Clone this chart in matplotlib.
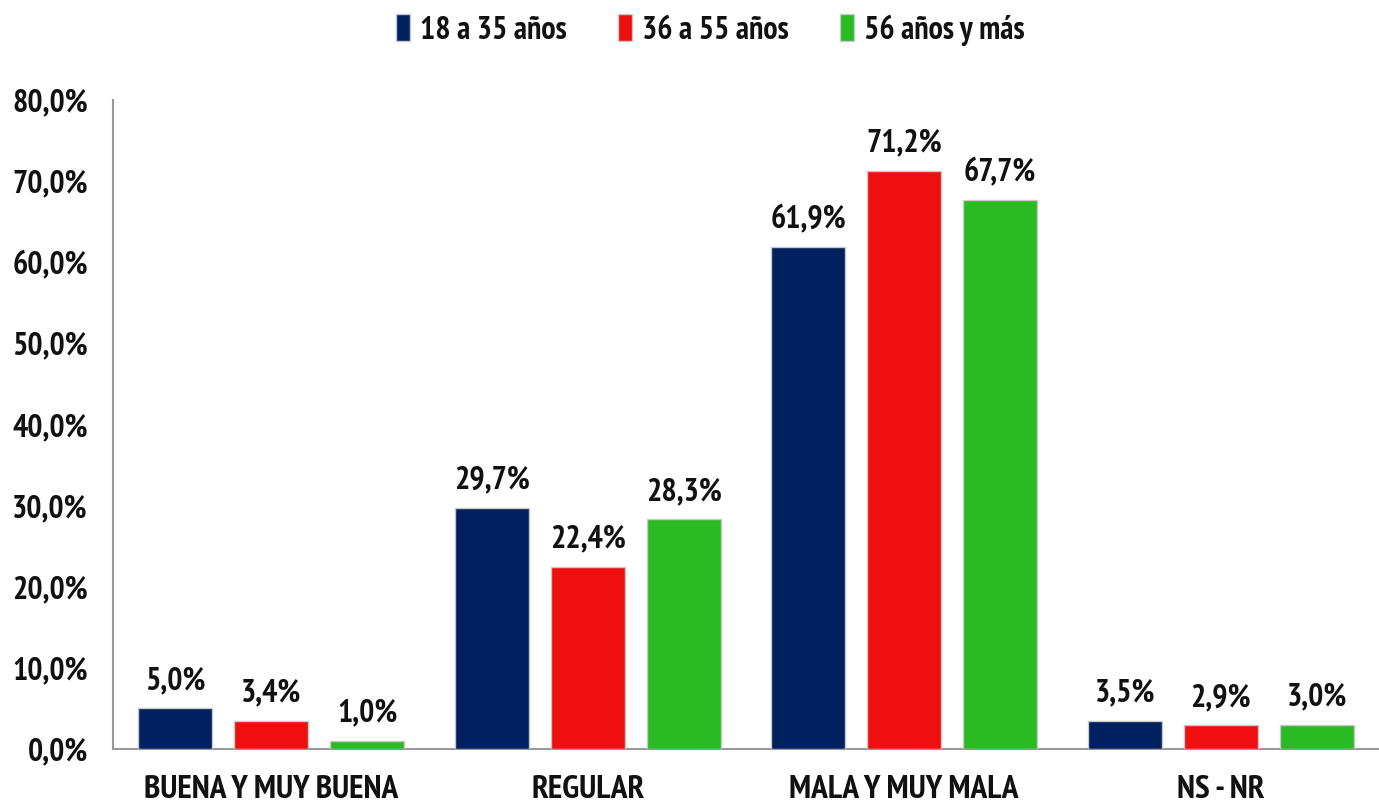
import matplotlib
matplotlib.use("Agg")
import matplotlib.pyplot as plt
from matplotlib import font_manager
import numpy as np

categories = ["BUENA Y MUY BUENA", "REGULAR", "MALA Y MUY MALA", "NS - NR"]
series_names = ["18 a 35 años", "36 a 55 años", "56 años y más"]
v_18_35 = [5.0, 29.7, 61.9, 3.5]
v_36_55 = [3.4, 22.4, 71.2, 2.9]
v_56 = [1.0, 28.3, 67.7, 3.0]
yticks = [0, 10, 20, 30, 40, 50, 60, 70, 80]
colors = ["#00205F", "#F00F0F", "#2ABB22"]

_installed = {f.name for f in font_manager.fontManager.ttflist}
_cands = ["PT Sans Narrow", "Roboto Condensed", "Liberation Sans Narrow",
          "Archivo Narrow", "Fira Sans Condensed", "DejaVu Sans"]
FAM = next(c for c in _cands if c in _installed or c == "DejaVu Sans")
FONT = dict(family=FAM, weight="bold")
FS = 23

fig = plt.figure(figsize=(13.79, 8.09), dpi=100)
ax = fig.add_axes([0.0819, 0.0742, 0.9181, 0.8022])

x = np.arange(len(categories))
w = 0.234
step = 0.303
for i, (vals, name, c) in enumerate(zip([v_18_35, v_36_55, v_56], series_names, colors)):
    bars = ax.bar(x + (i - 1) * step, vals, width=w, color=c, edgecolor="#C8C8C8",
                  linewidth=1, label=name, zorder=3)
    for b, v in zip(bars, vals):
        ax.annotate(f"{v:.1f}%".replace(".", ","), (b.get_x() + b.get_width() / 2, v),
                    xytext=(0, 9), textcoords="offset points", ha="center", va="bottom",
                    fontsize=FS, color="#111111", **FONT)

ax.set_xlim(-0.5, 3.5)
ax.set_ylim(0, 80)
ax.set_yticks(yticks)
ax.set_yticklabels([f"{t:.1f}%".replace(".", ",") for t in yticks], fontsize=FS, color="#111111", **FONT)
ax.set_xticks(x)
ax.set_xticklabels(categories, fontsize=24, color="#111111", **FONT)
ax.tick_params(axis="both", length=0)
ax.tick_params(axis="y", pad=18)
ax.tick_params(axis="x", pad=19)
for s in ["top", "right"]:
    ax.spines[s].set_visible(False)
for s in ["left", "bottom"]:
    ax.spines[s].set_color("#999999")
    ax.spines[s].set_linewidth(1.5)

leg = fig.legend(loc="upper center", bbox_to_anchor=(0.515, 1.018), ncol=3, frameon=False,
                 prop=dict(size=FS, **FONT), handlelength=0.45, handleheight=0.9,
                 handletextpad=0.3, columnspacing=1.6)
for t in leg.get_texts():
    t.set_color("#111111")

fig.savefig("out.png", dpi=100)
